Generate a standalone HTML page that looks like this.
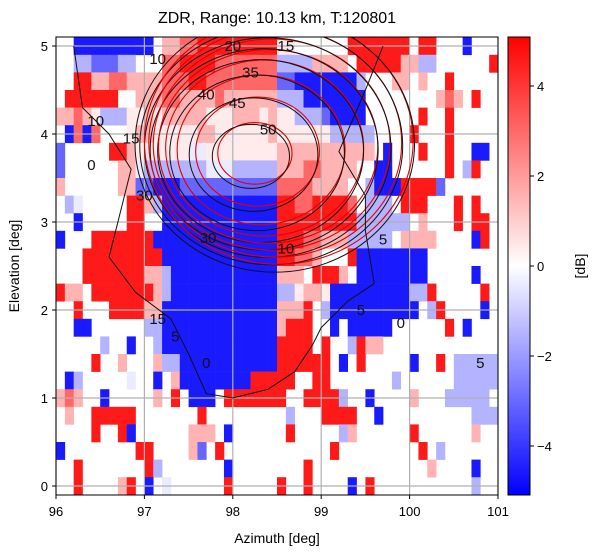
<!DOCTYPE html>
<html><head><meta charset="utf-8">
<style>
body{margin:0;background:#fff;}
svg{display:block;font-family:"Liberation Sans","DejaVu Sans",sans-serif;}
</style></head>
<body>
<svg id="chart" width="600" height="555" viewBox="0 0 600 555">
<text x="277" y="23" font-size="16" text-anchor="middle">ZDR, Range: 10.13 km, T:120801</text>
<defs>
<clipPath id="pc"><rect x="56" y="37" width="442" height="458"/></clipPath>
<linearGradient id="cbg" x1="0" y1="1" x2="0" y2="0">
<stop offset="0" stop-color="#0000ff"/><stop offset="0.5" stop-color="#ffffff"/><stop offset="1" stop-color="#ff0000"/>
</linearGradient>
</defs>
<g id="cells" clip-path="url(#pc)"></g>
<g id="grid"></g>
<g id="contours" clip-path="url(#pc)"></g>
<rect x="56" y="37" width="442" height="458" fill="none" stroke="#000" stroke-width="1"/>
<g id="axes" font-size="13"></g>
<text x="277" y="543" font-size="14" text-anchor="middle">Azimuth [deg]</text>
<text transform="translate(19,266) rotate(-90)" font-size="14" text-anchor="middle">Elevation [deg]</text>
<rect x="508" y="37" width="22" height="458" fill="url(#cbg)" stroke="#000" stroke-width="1"/>
<g id="cbticks" font-size="13"></g>
<text transform="translate(585,266) rotate(-90)" font-size="14" text-anchor="middle">[dB]</text>
</svg>
<script>
// grid data: rows from top (el 5.1) down, 50 azimuth bins of 0.1 deg
const azStart = 96, azStep = 0.1, elTop = 5.1, elStep = 0.2;
const codeValues = {R:4.5, r:3, p:1.5, w:0.4, v:-0.4, b:-1.5, m:-3, B:-4.5};
const zdrRows = [
"..BBBBBBBBB.pprrRRRRRRRRRww......RRRRRRR.RR...B...",
"..bbmmmbb...rrRRRRrrrrrrrbbbbpppp.RRRRRppbb......R",
"..RRpprrpppprrrRRrrrrrrrrmmBBBBBBBb...pp.p..R.....",
".RRRRRR..ppprrpppprppppppbbbBBBBBBB........prp.R..",
"pprpwbbbwwpwpppppwwwpppwpwwbbbmBBBB......R..R.....",
".BrBr...wppwwwwwppwwwwwwpwwwwwwbbbbb....R...R.....",
"m.....RRpwwwwwwvvwwwwwwwwppppppppppp.B...R..R..BB.",
"m......ppvbbbbbbbvvvbbbbbppprrpppp..BB......R.bR..",
"p......ppmmBBBmmmmmmmmmmmrrrrpppp..bBBBRRRRm......",
".bv.....RRpbBBBBBBBBBBBBBRRrrRRRRr.bbb.RRR...R.R..",
"..B.....RR..BBBBBBBBBBBBBRRRRRRRRRbbbbbb.p...R.RR.",
"B...RRRRRRRBBBBBBBBBBBBBBRRRrrpppbbbbb.pppp....BR.",
"...RRRRRRRRRBBBBBBBBBBBBBRRrrp...RBBBBBBBB........",
"...RRRRRRRppbBBBBBBBBBBBBppp.RRRp.BBBBBBBB.....B..",
"Rpp.RRRRRRRpbBBBBBBBBBBBBbbwppwBBBBBBBBBbbR.....R.",
"..R...RRRRppBBBBBBBBBBBBBpppR.bBBBBBBBBBB.bR....B.",
"..BB......bbBBBBBBBBBBBBBpRRR..B.BBBBB......R.B...",
".....b..B..bBBBBBBBBBBBBBRRRR.R..bRpp.............",
"....R..p...pbbBBBBBBBBBBBRRRRRR.B.R.....B..R.bbbbb",
".Bb.....v..B.pBBBBBBBBRRRRR..RR.......b......bbbbb",
"prp..B.....p.R.BBB.RRRRRRR..RRRRb..B....p...bbbbb",
".p..RRRRR.......R.........b...RRRR..B..........bbb",
"....R..RB......ppp.B......R.....bp......R......p..",
"B........RR....pm.R............R.........R.b......",
"..R.......Rb.......B........R.............p....B..",
"..R....pR.B.v......R.....R..R....B.R...........b.."
];
// reflectivity contour rings (level, center az, center el, rx deg, ry deg)
const ringLevels = [50, 45, 40, 35, 30, 25, 20, 15];
const ringAz = [98.25, 98.28, 98.32, 98.36, 98.4, 98.44, 98.48, 98.52];
const ringEl = [3.78, 3.8, 3.82, 3.84, 3.86, 3.88, 3.9, 3.92];
const ringRx = [0.42, 0.7, 0.95, 1.12, 1.24, 1.34, 1.43, 1.52];
const ringRy = [0.35, 0.62, 0.85, 1.0, 1.1, 1.2, 1.3, 1.4];
// outer (low-level) contour boundary
const edgeAz = [96.2, 96.3, 96.6, 96.85, 96.7, 96.6, 96.9, 97.3, 97.5, 97.7, 98.0, 98.4, 98.7, 98.9, 99.0, 99.3, 99.6, 99.5, 99.5, 99.2, 99.5, 99.7];
const edgeEl = [5.0, 4.3, 4.0, 3.6, 3.0, 2.6, 2.2, 1.9, 1.5, 1.05, 1.0, 1.1, 1.3, 1.6, 1.8, 2.1, 2.3, 2.9, 3.3, 3.8, 4.5, 5.0];
const labelText = ["20","15","35","40","45","50","10","10","15","0","30","30","15","5","0","5","5","0","5","10"];
const labelAz = [98.0, 98.6, 98.2, 97.7, 98.05, 98.4, 97.15, 96.45, 96.85, 96.4, 97.72, 97.0, 97.15, 97.35, 97.7, 99.7, 99.45, 99.9, 100.8, 98.6];
const labelEl = [5.0, 5.0, 4.7, 4.45, 4.35, 4.05, 4.85, 4.15, 3.95, 3.65, 2.82, 3.3, 1.9, 1.7, 1.4, 2.8, 2.0, 1.85, 1.4, 2.7];
const xTicks = [96, 97, 98, 99, 100, 101];
const yTicks = [0, 1, 2, 3, 4, 5];
const cbTicks = [4, 2, 0, -2, -4];

const NS = "http://www.w3.org/2000/svg";
const X = a => 56 + (a - 96) * 88.4;
const Y = e => 486 - e * 88;
const CB = v => 266 - v * 45;
function color(v){
  const t = Math.max(0, Math.min(1, (v + 5) / 10));
  let r, g, b;
  if (t < 0.5){ r = g = Math.round(510 * t); b = 255; }
  else { r = 255; g = b = Math.round(510 * (1 - t)); }
  return `rgb(${r},${g},${b})`;
}
function mk(tag, attrs, parent){
  const el = document.createElementNS(NS, tag);
  for (const k in attrs) el.setAttribute(k, attrs[k]);
  parent.appendChild(el);
  return el;
}
const cells = document.getElementById("cells");
zdrRows.forEach((row, ri) => {
  for (let ci = 0; ci < 50; ci++){
    const ch = row[ci];
    if (!ch || !(ch in codeValues)) continue;
    const a0 = azStart + ci * azStep, e0 = elTop - ri * elStep;
    const x0 = X(a0), x1 = X(a0 + azStep), y0 = Y(e0), y1 = Y(e0 - elStep);
    const r = mk("rect", {x: x0.toFixed(2), y: y0.toFixed(2), width: (x1 - x0 + 0.3).toFixed(2), height: (y1 - y0 + 0.3).toFixed(2), fill: color(codeValues[ch])}, cells);
    
    
  }
});
const grid = document.getElementById("grid");
xTicks.forEach(t => {
  const l = mk("line", {x1: X(t), x2: X(t), y1: 37, y2: 495, stroke: "#b0b0b0", "stroke-width": 1.2}, grid);
  
  
});
yTicks.forEach(t => {
  const l = mk("line", {x1: 56, x2: 498, y1: Y(t), y2: Y(t), stroke: "#b0b0b0", "stroke-width": 1.2}, grid);
  
  
});
const cont = document.getElementById("contours");
ringLevels.forEach((lv, i) => {
  const cx = X(ringAz[i]), cy = Y(ringEl[i]);
  const e1 = mk("ellipse", {cx: cx, cy: cy, rx: ringRx[i] * 88.4, ry: ringRy[i] * 88, fill: "none", stroke: "#e00000", "stroke-width": 1.1}, cont);
  
  
  const e2 = mk("ellipse", {cx: cx - 4, cy: cy + 3, rx: ringRx[i] * 88.4 * 1.04, ry: ringRy[i] * 88 * 1.04, fill: "none", stroke: "#111", "stroke-width": 1}, cont);
  
  
});
let d = "";
edgeAz.forEach((a, i) => { d += (i ? "L" : "M") + X(a).toFixed(1) + "," + Y(edgeEl[i]).toFixed(1); });
const edge = mk("path", {d: d, fill: "none", stroke: "#111", "stroke-width": 1}, cont);


labelText.forEach((t, i) => {
  const tx = mk("text", {x: X(labelAz[i]), y: Y(labelEl[i]) + 5, "font-size": 15, "text-anchor": "middle", fill: "#111"}, cont);
  tx.textContent = t;
  
  
});
const axes = document.getElementById("axes");
xTicks.forEach(t => {
  const l = mk("line", {x1: X(t), x2: X(t), y1: 495, y2: 499, stroke: "#000"}, axes);
  
  
  const tx = mk("text", {x: X(t), y: 516, "text-anchor": "middle"}, axes);
  tx.textContent = t;
  
  
});
yTicks.forEach(t => {
  const l = mk("line", {x1: 52, x2: 56, y1: Y(t), y2: Y(t), stroke: "#000"}, axes);
  
  
  const tx = mk("text", {x: 48, y: Y(t) + 5, "text-anchor": "end"}, axes);
  tx.textContent = t;
  
  
});
const cbt = document.getElementById("cbticks");
cbTicks.forEach(t => {
  const l = mk("line", {x1: 530, x2: 534, y1: CB(t), y2: CB(t), stroke: "#000"}, cbt);
  
  
  const tx = mk("text", {x: 537, y: CB(t) + 5}, cbt);
  tx.textContent = t < 0 ? "\u2212" + (-t) : String(t);
  
  
});
</script>
</body></html>
